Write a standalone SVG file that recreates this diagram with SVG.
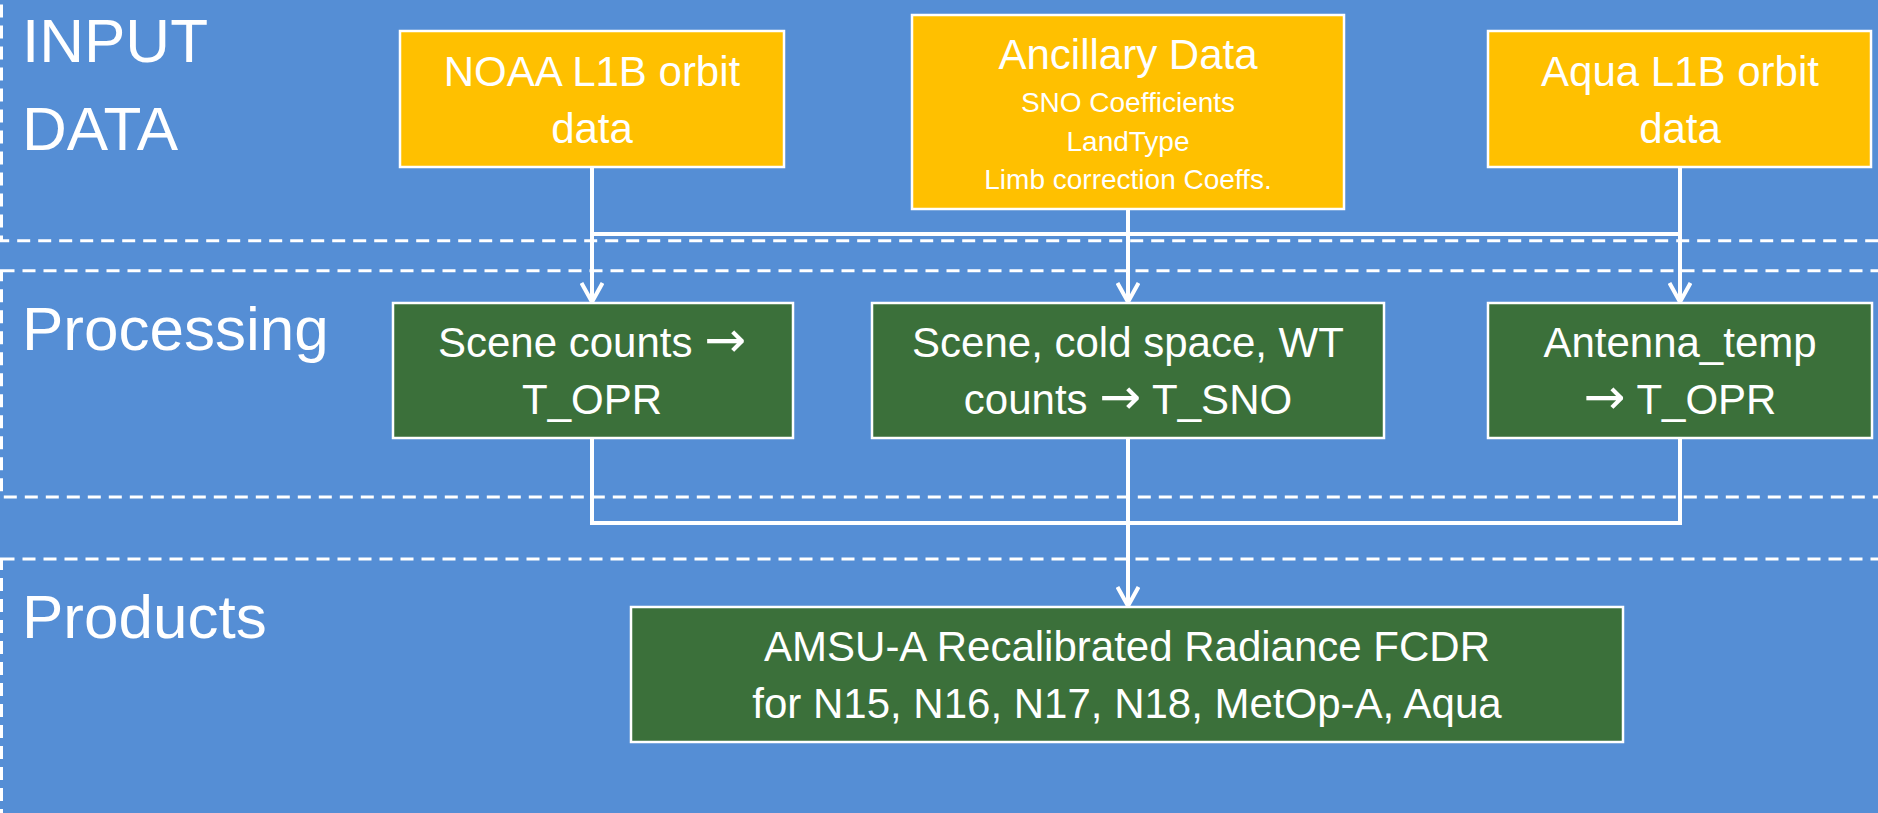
<svg xmlns="http://www.w3.org/2000/svg" width="1878" height="813" viewBox="0 0 1878 813">
<style>
.lane{fill:none;stroke:#ffffff;stroke-width:3;stroke-dasharray:13 8}
.lbl{font-family:"Liberation Sans",Arial,sans-serif;font-size:62px;fill:#ffffff}
.in{fill:#FFC000;stroke:#ffffff;stroke-width:2.5}
.pr{fill:#3B703A;stroke:#ffffff;stroke-width:2.5}
.t{font-family:"Liberation Sans",Arial,sans-serif;font-size:42px;fill:#ffffff;text-anchor:middle}
.s{font-family:"Liberation Sans",Arial,sans-serif;font-size:28px;fill:#ffffff;text-anchor:middle}
.ar{font-family:"DejaVu Sans",sans-serif;font-size:50px}
.c{fill:none;stroke:#ffffff;stroke-width:4}
</style>
<defs>
<marker id="arr" markerUnits="userSpaceOnUse" viewBox="0 0 24 24" refX="21" refY="12" markerWidth="24" markerHeight="24" orient="auto">
<path d="M2,1.5 L21,12 L2,22.5" fill="none" stroke="#ffffff" stroke-width="4"/>
</marker>
</defs>
<rect x="0" y="0" width="1878" height="813" fill="#558ED5"/>
<g id="lanes">
<rect class="lane" x="1.5" y="-20" width="1900" height="260.7"/>
<rect class="lane" x="1.5" y="270.7" width="1900" height="226.3"/>
<rect class="lane" x="1.5" y="559" width="1900" height="300"/>
</g>
<g id="lane-labels">
<text class="lbl" x="22" y="62">INPUT</text>
<text class="lbl" x="22" y="150">DATA</text>
<text class="lbl" x="22" y="350">Processing</text>
<text class="lbl" x="22" y="638">Products</text>
</g>
<g id="connectors">
<line class="c" x1="592" y1="167" x2="592" y2="302" marker-end="url(#arr)"/>
<line class="c" x1="1128" y1="209" x2="1128" y2="302" marker-end="url(#arr)"/>
<line class="c" x1="1680" y1="167" x2="1680" y2="302" marker-end="url(#arr)"/>
<line class="c" x1="590" y1="234" x2="1682" y2="234"/>
<polyline class="c" points="592,438 592,523 1680,523 1680,438"/>
<line class="c" x1="1128" y1="438" x2="1128" y2="606" marker-end="url(#arr)"/>
</g>
<g id="noaa">
<rect class="in" x="400" y="31" width="384" height="136"/>
<text class="t" x="592" y="86">NOAA L1B orbit</text>
<text class="t" x="592" y="143">data</text>
</g>
<g id="ancillary">
<rect class="in" x="912" y="15" width="432" height="194"/>
<text class="t" x="1128" y="69">Ancillary Data</text>
<text class="s" x="1128" y="112">SNO Coefficients</text>
<text class="s" x="1128" y="151">LandType</text>
<text class="s" x="1128" y="189">Limb correction Coeffs.</text>
</g>
<g id="aqua">
<rect class="in" x="1488" y="31" width="383" height="136"/>
<text class="t" x="1680" y="86">Aqua L1B orbit</text>
<text class="t" x="1680" y="143">data</text>
</g>
<g id="scene-opr">
<rect class="pr" x="393" y="303" width="400" height="135"/>
<text class="t" x="592" y="357">Scene counts <tspan class="ar">→</tspan></text>
<text class="t" x="592" y="414">T_OPR</text>
</g>
<g id="scene-sno">
<rect class="pr" x="872" y="303" width="512" height="135"/>
<text class="t" x="1128" y="357">Scene, cold space, WT</text>
<text class="t" x="1128" y="414">counts <tspan class="ar">→</tspan> T_SNO</text>
</g>
<g id="antenna">
<rect class="pr" x="1488" y="303" width="384" height="135"/>
<text class="t" x="1680" y="357">Antenna_temp</text>
<text class="t" x="1680" y="414"><tspan class="ar">→</tspan> T_OPR</text>
</g>
<g id="fcdr">
<rect class="pr" x="631" y="607" width="992" height="135"/>
<text class="t" x="1127" y="661">AMSU-A Recalibrated Radiance FCDR</text>
<text class="t" x="1127" y="718">for N15, N16, N17, N18, MetOp-A, Aqua</text>
</g>
</svg>
